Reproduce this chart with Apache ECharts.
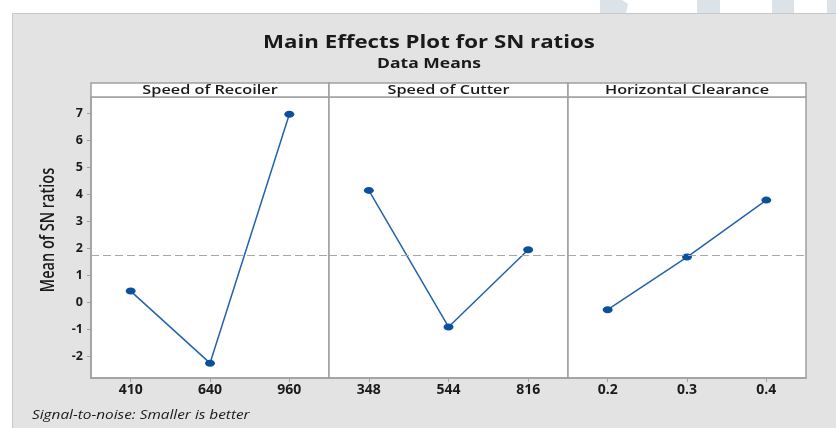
<!DOCTYPE html>
<html>
<head>
<meta charset="utf-8">
<script src="https://cdn.jsdelivr.net/npm/echarts@6/dist/echarts.min.js"></script>
<style>
html,body{margin:0;padding:0;background:#fff;}
#chart{width:836px;height:428px;}
</style>
</head>
<body>
<div id="chart"></div>
<script>
// ---- data ----
const panelTitles = ['Speed of Recoiler', 'Speed of Cutter', 'Horizontal Clearance'];
const recoilerLevels = ['410', '640', '960'];
const recoilerSN = [0.43, -2.24, 6.98];
const cutterLevels = ['348', '544', '816'];
const cutterSN = [4.16, -0.90, 1.96];
const clearanceLevels = ['0.2', '0.3', '0.4'];
const clearanceSN = [-0.26, 1.69, 3.80];
const meanSN = 1.74;
const yMin = -2.79, yMax = 7.62;

const chartTitle = 'Main Effects Plot for SN ratios';
const chartSubtitle = 'Data Means';
const yAxisName = 'Mean of SN ratios';
const footnote = 'Signal-to-noise: Smaller is better';

// ---- layout ----
const panelLefts = [91, 329, 568];
const panelWidths = [238, 239, 238];
const plotTop = 97, plotHeight = 281, stripTop = 83;
const borderCol = '#a0a0a0';
const textCol = '#1a1a1a';
const font = '"Open Sans", "Noto Sans", sans-serif';

const levels = [recoilerLevels, cutterLevels, clearanceLevels];
const values = [recoilerSN, cutterSN, clearanceSN];

const grids = [], xAxes = [], yAxes = [], series = [];
for (let i = 0; i < 3; i++) {
  grids.push({
    left: panelLefts[i], top: plotTop, width: panelWidths[i], height: plotHeight,
    show: true, backgroundColor: '#ffffff', borderColor: borderCol, borderWidth: 1.5,
    containLabel: false
  });
  xAxes.push({
    type: 'category', gridIndex: i, data: levels[i], boundaryGap: true,
    axisLine: { show: true, onZero: false, lineStyle: { color: borderCol, width: 1.5 } },
    axisTick: { show: true, alignWithLabel: true, length: 4, lineStyle: { color: borderCol } },
    axisLabel: { color: textCol, fontFamily: font, fontSize: 14, fontWeight: 700, margin: 5 },
    splitLine: { show: false }
  });
  yAxes.push({
    type: 'value', gridIndex: i, min: yMin, max: yMax,
    minInterval: 1, maxInterval: 1, splitNumber: 10,
    axisLine: { show: i === 0, lineStyle: { color: borderCol, width: 1.5 } },
    axisTick: { show: i === 0, length: 4, lineStyle: { color: borderCol } },
    axisLabel: { show: i === 0, color: textCol, fontFamily: font, fontSize: 12.5, fontWeight: 700,
                 margin: 8, showMinLabel: false, showMaxLabel: false },
    splitLine: { show: false }
  });
  series.push({
    type: 'line', xAxisIndex: i, yAxisIndex: i, data: values[i],
    symbol: 'circle', symbolSize: [10, 7],
    lineStyle: { color: '#2462ad', width: 1.5 },
    itemStyle: { color: '#0b4f9e' },
    emphasis: { disabled: true },
    animation: false,
    markLine: {
      silent: true, symbol: 'none', label: { show: false },
      lineStyle: { color: '#a8a8a8', type: [8, 4], width: 1.2 },
      data: [{ yAxis: meanSN }],
      animation: false
    }
  });
}

const graphics = [
  // gray frame
  { type: 'rect', z: -100, shape: { x: 12.5, y: 13.5, width: 830, height: 420 },
    style: { fill: '#e3e3e3', stroke: '#c8c8c8', lineWidth: 1 } },
  // watermark fragments at top
  { type: 'polygon', z: -100, shape: { points: [[600, 0], [622, 0], [628, 4], [626, 13], [600, 13]] }, style: { fill: '#dce3e8' } },
  { type: 'rect', z: -100, shape: { x: 697, y: 0, width: 23, height: 13 }, style: { fill: '#dce3e8' } },
  { type: 'rect', z: -100, shape: { x: 772, y: 0, width: 22, height: 13 }, style: { fill: '#dce3e8' } },
  { type: 'rect', z: -100, shape: { x: 827, y: 0, width: 9, height: 13 }, style: { fill: '#dce3e8' } },
  // titles (source image is stretched horizontally)
  { type: 'text', z: 10, x: 429, y: 43, scaleX: 1.31,
    style: { text: chartTitle, x: 0, y: 0, align: 'center', verticalAlign: 'middle',
             fill: textCol, font: '700 17px ' + font } },
  { type: 'text', z: 10, x: 429, y: 64, scaleX: 1.25,
    style: { text: chartSubtitle, x: 0, y: 0, align: 'center', verticalAlign: 'middle',
             fill: textCol, font: '700 14px ' + font } },
  { type: 'text', z: 10, x: 32, y: 415, scaleX: 1.18,
    style: { text: footnote, x: 0, y: 0, align: 'left', verticalAlign: 'middle',
             fill: textCol, font: 'italic 13px ' + font } },
  { type: 'text', z: 10, x: 49, y: 230, rotation: Math.PI / 2, scaleY: 1.3,
    style: { text: yAxisName, x: 0, y: 0, align: 'center', verticalAlign: 'middle',
             fill: textCol, font: '600 14.5px ' + font } }
];
for (let i = 0; i < 3; i++) {
  graphics.push({ type: 'rect', z: 5,
    shape: { x: panelLefts[i], y: stripTop, width: panelWidths[i], height: plotTop - stripTop },
    style: { fill: '#ffffff', stroke: borderCol, lineWidth: 1.5 } });
  graphics.push({ type: 'text', z: 6, x: panelLefts[i] + panelWidths[i] / 2, y: (stripTop + plotTop) / 2 + 0.5,
    scaleX: 1.25,
    style: { text: panelTitles[i], x: 0, y: 0,
             align: 'center', verticalAlign: 'middle', fill: textCol, font: '600 13px ' + font } });
}

const chart = echarts.init(document.getElementById('chart'), null, { renderer: 'canvas' });
chart.setOption({
  animation: false,
  backgroundColor: '#ffffff',
  grid: grids, xAxis: xAxes, yAxis: yAxes, series: series,
  graphic: graphics
});
</script>
</body>
</html>
